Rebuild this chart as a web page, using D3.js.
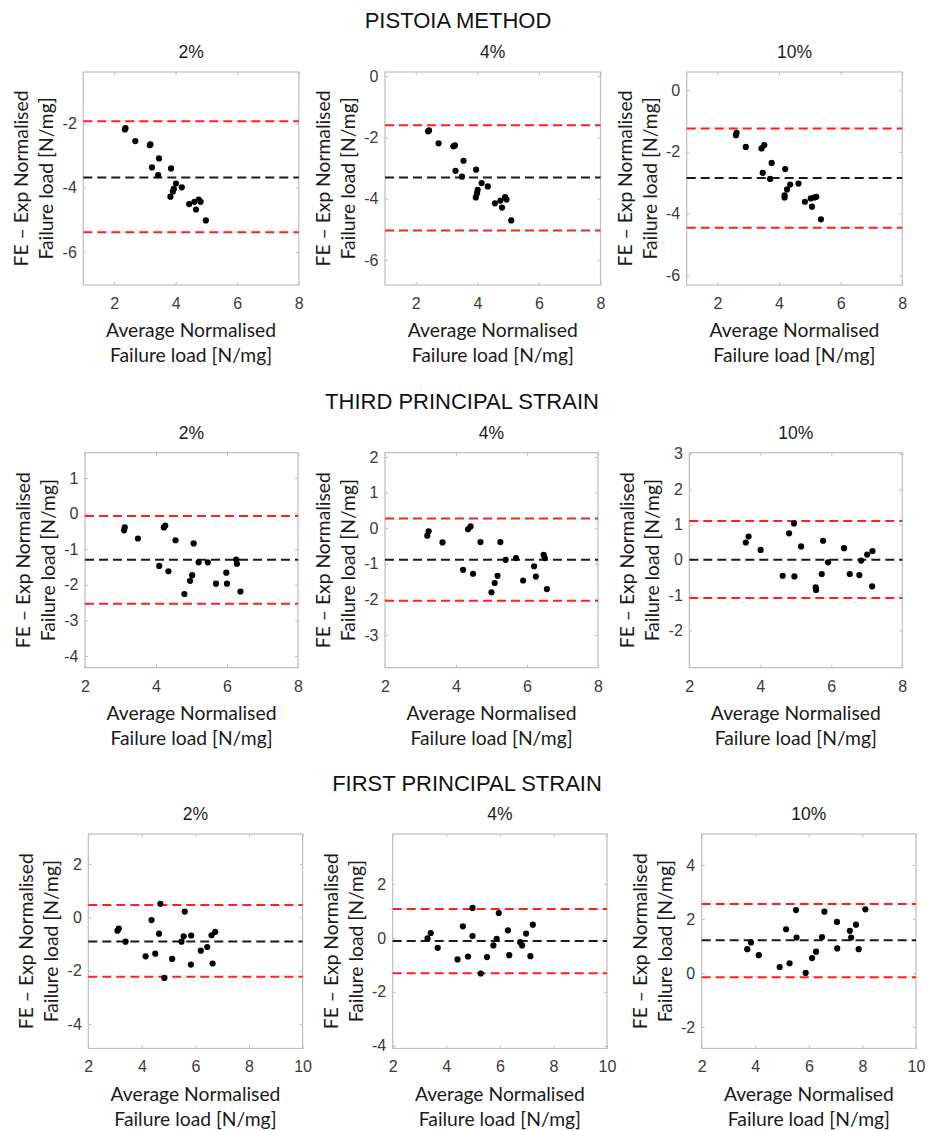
<!DOCTYPE html>
<html>
<head>
<meta charset="utf-8">
<script src="https://cdn.jsdelivr.net/npm/d3@7"></script>
<style>
  html, body { margin: 0; padding: 0; background: #fff; }
  svg { display: block; }
</style>
</head>
<body>
<svg id="chart" width="928" height="1131"></svg>
<script>
// ---------------- DATA ----------------
const methods = ["PISTOIA METHOD", "THIRD PRINCIPAL STRAIN", "FIRST PRINCIPAL STRAIN"];
const thresholds = ["2%", "4%", "10%"];

// Pistoia method
const pistoia2X = [2.35,2.37,2.69,3.16,3.18,3.46,3.23,3.43,3.85,4.01,3.94,3.91,3.83,4.20,4.44,4.61,4.66,4.75,4.81,4.98];
const pistoia2Y = [-2.19,-2.15,-2.55,-2.68,-2.65,-3.09,-3.37,-3.61,-3.40,-3.87,-4.04,-4.12,-4.28,-3.99,-4.51,-4.44,-4.68,-4.37,-4.44,-5.02];
const pistoia4X = [2.40,2.43,2.74,3.22,3.27,3.55,3.29,3.50,3.96,4.14,4.01,3.99,3.95,4.34,4.57,4.75,4.80,4.90,4.95,5.10];
const pistoia4Y = [-1.80,-1.77,-2.19,-2.29,-2.26,-2.76,-3.09,-3.28,-3.05,-3.49,-3.71,-3.82,-3.96,-3.60,-4.15,-4.06,-4.29,-3.95,-4.03,-4.71];
const pistoia10X = [2.60,2.62,2.92,3.43,3.52,3.76,3.47,3.71,4.20,4.36,4.26,4.18,4.18,4.63,4.84,5.03,5.07,5.15,5.21,5.36];
const pistoia10Y = [-1.46,-1.38,-1.84,-1.89,-1.78,-2.36,-2.68,-2.88,-2.56,-3.06,-3.22,-3.41,-3.48,-3.03,-3.62,-3.51,-3.78,-3.48,-3.46,-4.19];

// Third principal strain
const third2X = [3.10,3.12,3.49,4.09,4.22,4.26,4.35,4.55,4.80,4.96,5.02,5.06,5.20,5.46,5.69,5.98,6.00,6.26,6.28,6.38];
const third2Y = [-0.47,-0.39,-0.70,-1.47,-0.39,-0.34,-1.62,-0.75,-2.26,-1.89,-1.73,-0.84,-1.37,-1.37,-1.97,-1.66,-1.97,-1.29,-1.41,-2.19];
const third4X = [3.19,3.23,3.62,4.20,4.34,4.41,4.48,4.69,5.00,5.09,5.17,5.25,5.40,5.69,5.89,6.20,6.25,6.47,6.50,6.56];
const third4Y = [-0.21,-0.09,-0.40,-1.17,-0.03,0.05,-1.28,-0.39,-1.80,-1.54,-1.34,-0.39,-0.89,-0.84,-1.47,-1.07,-1.36,-0.75,-0.84,-1.71];
const third10X = [3.59,3.67,4.01,4.63,4.81,4.95,4.96,5.15,5.56,5.57,5.73,5.77,5.91,6.36,6.52,6.79,6.84,7.01,7.16,7.15];
const third10Y = [0.49,0.66,0.28,-0.45,0.75,1.03,-0.47,0.38,-0.78,-0.85,-0.40,0.54,-0.07,0.33,-0.40,-0.43,-0.02,0.15,0.25,-0.75];

// First principal strain
const first2X = [3.09,3.14,3.39,4.14,4.36,4.50,4.64,4.69,4.84,5.13,5.48,5.56,5.60,5.84,5.83,6.20,6.44,6.60,6.64,6.74];
const first2Y = [-0.50,-0.42,-0.91,-1.46,-0.10,-1.36,-0.61,0.51,-2.27,-1.56,-0.91,-0.71,0.22,-0.68,-1.77,-1.25,-1.11,-0.67,-1.73,-0.54];
const first4X = [3.30,3.42,3.68,4.42,4.62,4.81,4.98,4.98,5.29,5.52,5.76,5.88,5.96,6.30,6.35,6.76,6.83,6.98,7.14,7.23];
const first4Y = [-0.02,0.18,-0.37,-0.80,0.43,-0.69,0.07,1.11,-1.32,-0.71,-0.28,-0.04,0.92,0.28,-0.64,-0.16,-0.28,0.16,-0.68,0.49];
const first10X = [3.70,3.84,4.13,4.91,5.15,5.28,5.52,5.54,5.88,6.12,6.27,6.49,6.58,7.05,7.06,7.53,7.58,7.76,7.86,8.11];
const first10Y = [0.88,1.13,0.66,0.22,1.62,0.36,2.33,1.31,0.00,0.55,0.79,1.33,2.27,1.89,0.91,1.56,1.31,1.79,0.88,2.36];

// Bias (mean difference) and limits of agreement per panel [2%, 4%, 10%]
const pistoiaBias  = [-3.68, -3.31, -2.85];
const pistoiaUpper = [-1.93, -1.60, -1.24];
const pistoiaLower = [-5.39, -5.04, -4.46];
const thirdBias    = [-1.30, -0.89, 0.00];
const thirdUpper   = [-0.07, 0.27, 1.10];
const thirdLower   = [-2.53, -2.04, -1.08];
const firstBias    = [-0.90, -0.12, 1.21];
const firstUpper   = [0.47, 1.07, 2.56];
const firstLower   = [-2.23, -1.31, -0.16];

// Axis ranges and ticks
const pistoiaXDomain = [1, 8];
const thirdXDomain = [2, 8];
const firstXDomain = [2, 10];
const pistoiaXTicks = [2, 4, 6, 8];
const thirdXTicks = [2, 4, 6, 8];
const firstXTicks = [2, 4, 6, 8, 10];
const pistoiaYDomains = [[-7.03, -0.40], [-6.82, 0.14], [-6.32, 0.59]];
const thirdYDomains = [[-4.33, 1.71], [-3.92, 2.12], [-3.05, 3.03]];
const firstYDomains = [[-4.92, 3.13], [-4.10, 3.85], [-2.80, 5.15]];
const pistoiaYTicks = [[-6, -4, -2], [-6, -4, -2, 0], [-6, -4, -2, 0]];
const thirdYTicks = [[-4, -3, -2, -1, 0, 1], [-3, -2, -1, 0, 1, 2], [-2, -1, 0, 1, 2, 3]];
const firstYTicks = [[-4, -2, 0, 2], [-4, -2, 0, 2], [-2, 0, 2, 4]];

const xLabelLines = ["Average Normalised", "Failure load [N/mg]"];
const yLabelLines = ["FE \u2013 Exp Normalised", "Failure load [N/mg]"];

// ---------------- LAYOUT ----------------
const rowTops = [72, 452.7, 834];
const rowHeights = [213, 215, 214.5];
const panelLefts = [[83.3, 385, 686.7], [85, 385, 689.3], [88.3, 392.7, 701.7]];
const panelWidths = [215.5, 213, 214.3];
const titleX = [458, 462, 467];
const titleBaselines = [28.3, 409, 790.5];

const rows = [
  { xs: [pistoia2X, pistoia4X, pistoia10X], ys: [pistoia2Y, pistoia4Y, pistoia10Y],
    bias: pistoiaBias, up: pistoiaUpper, lo: pistoiaLower,
    xDom: pistoiaXDomain, xTicks: pistoiaXTicks, yDoms: pistoiaYDomains, yTicks: pistoiaYTicks },
  { xs: [third2X, third4X, third10X], ys: [third2Y, third4Y, third10Y],
    bias: thirdBias, up: thirdUpper, lo: thirdLower,
    xDom: thirdXDomain, xTicks: thirdXTicks, yDoms: thirdYDomains, yTicks: thirdYTicks },
  { xs: [first2X, first4X, first10X], ys: [first2Y, first4Y, first10Y],
    bias: firstBias, up: firstUpper, lo: firstLower,
    xDom: firstXDomain, xTicks: firstXTicks, yDoms: firstYDomains, yTicks: firstYTicks }
];

const svg = d3.select("#chart");
const tickFont = "'Liberation Sans', Arial, sans-serif";
const labelFont = "Lato, 'Open Sans', sans-serif";
const boxColor = "#bdbdbd";
const tickTextColor = "#3a3a3a";

rows.forEach((row, ri) => {
  // row title
  svg.append("text")
    .attr("x", titleX[ri]).attr("y", titleBaselines[ri])
    .attr("text-anchor", "middle")
    .style("font-family", tickFont).style("font-size", "22px").style("fill", "#111")
    .text(methods[ri]);

  for (let pi = 0; pi < 3; pi++) {
    const left = panelLefts[ri][pi], top = rowTops[ri];
    const w = panelWidths[ri], h = rowHeights[ri];
    const x = d3.scaleLinear().domain(row.xDom).range([0, w]);
    const y = d3.scaleLinear().domain(row.yDoms[pi]).range([h, 0]);
    const g = svg.append("g").attr("transform", `translate(${left},${top})`);

    // subtitle
    g.append("text").attr("x", w / 2).attr("y", -14)
      .attr("text-anchor", "middle")
      .style("font-family", tickFont).style("font-size", "17.5px").style("fill", "#1a1a1a")
      .text(thresholds[pi]);

    // axes
    const fmt = d => String(d);
    const styleAxis = sel => {
      sel.select(".domain").remove();
      sel.selectAll(".tick line").attr("stroke", boxColor).attr("stroke-width", 1);
      sel.selectAll(".tick text").style("font-family", tickFont).style("font-size", "16px").style("fill", tickTextColor);
    };
    g.append("g").attr("transform", `translate(0,${h})`)
      .call(d3.axisBottom(x).tickValues(row.xTicks).tickFormat(fmt).tickSize(-3).tickPadding(12.5))
      .call(styleAxis);
    g.append("g")
      .call(d3.axisTop(x).tickValues(row.xTicks).tickFormat("").tickSize(-3))
      .call(styleAxis);
    g.append("g")
      .call(d3.axisLeft(y).tickValues(row.yTicks[pi]).tickFormat(fmt).tickSize(-3).tickPadding(6.5))
      .call(styleAxis);
    g.append("g").attr("transform", `translate(${w},0)`)
      .call(d3.axisRight(y).tickValues(row.yTicks[pi]).tickFormat("").tickSize(-3))
      .call(styleAxis);

    // box
    g.append("rect").attr("x", 0).attr("y", 0).attr("width", w).attr("height", h)
      .attr("fill", "none").attr("stroke", boxColor).attr("stroke-width", 1.2);

    // reference lines
    const lines = [
      { v: row.up[pi], c: "#ff1f1f" },
      { v: row.bias[pi], c: "#1a1a1a" },
      { v: row.lo[pi], c: "#ff1f1f" }
    ];
    g.selectAll("line.ref").data(lines).join("line")
      .attr("class", "ref")
      .attr("x1", x(row.xDom[0])).attr("x2", x(row.xDom[1]))
      .attr("y1", d => y(d.v)).attr("y2", d => y(d.v))
      .attr("stroke", d => d.c).attr("stroke-width", 2)
      .attr("stroke-dasharray", "9,5");

    // points
    const pts = row.xs[pi].map((xv, i) => ({ x: xv, y: row.ys[pi][i] }));
    g.selectAll("circle").data(pts).join("circle")
      .attr("cx", d => x(d.x)).attr("cy", d => y(d.y)).attr("r", 3.1)
      .attr("fill", "#000");

    // x label
    xLabelLines.forEach((t, li) => {
      g.append("text").attr("x", w / 2).attr("y", h + 52 + li * 25)
        .attr("text-anchor", "middle")
        .style("font-family", labelFont).style("font-size", "19.3px").style("fill", "#1a1a1a")
        .text(t);
    });
    // y label
    yLabelLines.forEach((t, li) => {
      const bx = -55 + li * 25;
      g.append("text")
        .attr("transform", `translate(${bx},${h / 2}) rotate(-90)`)
        .attr("text-anchor", "middle")
        .style("font-family", labelFont).style("font-size", "19.3px").style("fill", "#1a1a1a")
        .text(t);
    });
  }
});
</script>
</body>
</html>
